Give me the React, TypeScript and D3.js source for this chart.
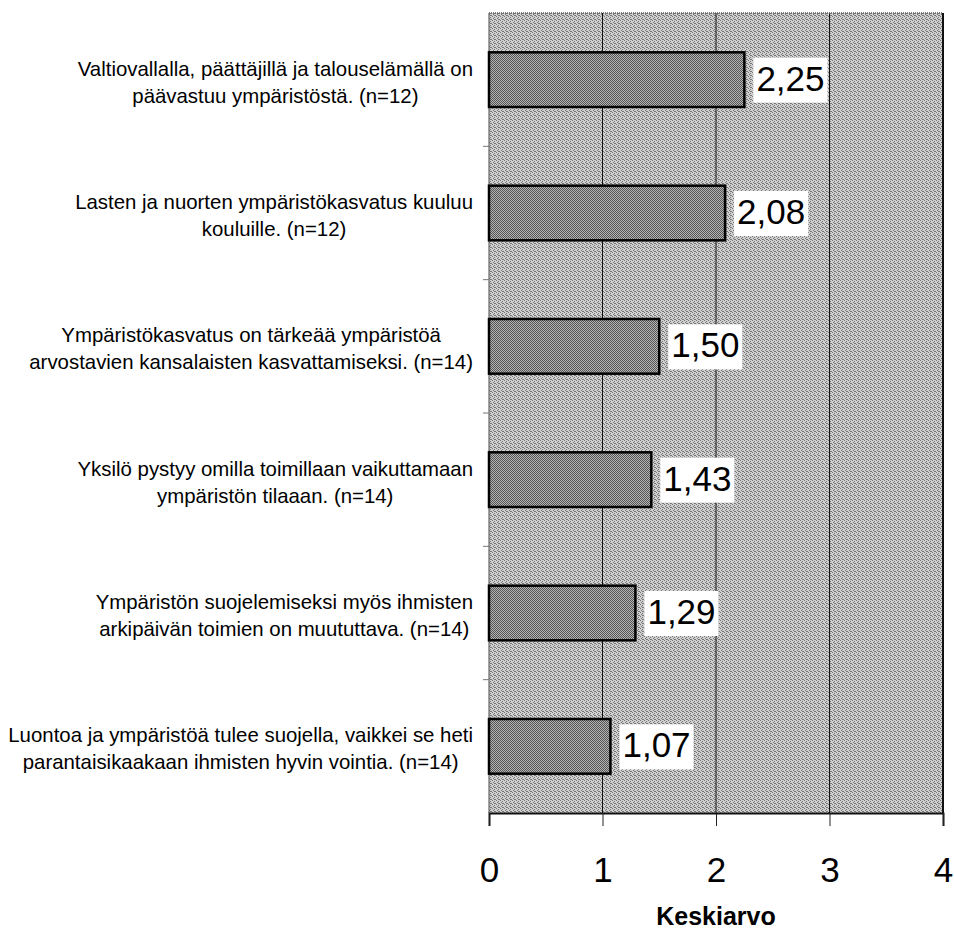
import { useEffect, useRef } from 'react';
import * as d3 from 'd3';

const statements: string[][] = [
  ['Valtiovallalla, päättäjillä ja talouselämällä on', 'päävastuu ympäristöstä. (n=12)'],
  ['Lasten ja nuorten ympäristökasvatus kuuluu', 'kouluille. (n=12)'],
  ['Ympäristökasvatus on tärkeää ympäristöä', 'arvostavien kansalaisten kasvattamiseksi. (n=14)'],
  ['Yksilö pystyy omilla toimillaan vaikuttamaan', 'ympäristön tilaaan. (n=14)'],
  ['Ympäristön suojelemiseksi myös ihmisten', 'arkipäivän toimien on muututtava. (n=14)'],
  ['Luontoa ja ympäristöä tulee suojella, vaikkei se heti', 'parantaisikaakaan ihmisten hyvin vointia. (n=14)'],
];
const means = [2.25, 2.08, 1.5, 1.43, 1.29, 1.07];
const xTicks = [0, 1, 2, 3, 4];
const axisTitle = 'Keskiarvo';

const fi = d3.formatLocale({ decimal: ',', thousands: ' ', grouping: [3], currency: ['', ' €'] });
const fmt = fi.format('.2f');

const FONT = '"Liberation Sans", Arial, Helvetica, sans-serif';

const App = () => {
  const svgRef = useRef<SVGSVGElement>(null);

  const width = 954;
  const height = 933;
  const plot = { left: 489, right: 943, top: 13, bottom: 813 };

  useEffect(() => {
    if (!svgRef.current) return;
    const svg = d3.select(svgRef.current);
    svg.selectAll('*').remove();

    svg.attr('width', width).attr('height', height);

    // dither-ish patterns
    const defs = svg.append('defs');
    const bgPat = defs.append('pattern')
      .attr('id', 'bgPat').attr('width', 4).attr('height', 4)
      .attr('patternUnits', 'userSpaceOnUse');
    bgPat.append('rect').attr('width', 4).attr('height', 4).attr('fill', '#cfcfcf');
    [[0, 0], [2, 1], [1, 2], [3, 3], [2, 3]].forEach(([px, py]) => {
      bgPat.append('rect').attr('x', px).attr('y', py).attr('width', 1).attr('height', 1).attr('fill', '#777');
    });

    const barPat = defs.append('pattern')
      .attr('id', 'barPat').attr('width', 2).attr('height', 2)
      .attr('patternUnits', 'userSpaceOnUse');
    barPat.append('rect').attr('width', 2).attr('height', 2).attr('fill', '#b4b4b4');
    barPat.append('rect').attr('x', 0).attr('y', 0).attr('width', 1).attr('height', 1).attr('fill', '#555');
    barPat.append('rect').attr('x', 1).attr('y', 1).attr('width', 1).attr('height', 1).attr('fill', '#555');

    svg.append('rect').attr('width', width).attr('height', height).attr('fill', 'white');

    const x = d3.scaleLinear().domain([0, 4]).range([plot.left, plot.right]);
    const y = d3.scaleBand<number>()
      .domain(means.map((_, i) => i))
      .range([plot.top, plot.bottom])
      .paddingInner(0.59)
      .paddingOuter(0.295);
    const step = y.step();

    // plot background
    svg.append('rect')
      .attr('x', plot.left).attr('y', plot.top)
      .attr('width', plot.right - plot.left).attr('height', plot.bottom - plot.top)
      .attr('fill', 'url(#bgPat)');

    // gridlines
    svg.append('g')
      .selectAll('line')
      .data(xTicks.slice(1, -1))
      .enter().append('line')
      .attr('x1', d => x(d)).attr('x2', d => x(d))
      .attr('y1', plot.top).attr('y2', plot.bottom)
      .attr('stroke', '#111').attr('stroke-width', 1);

    // borders
    svg.append('line')
      .attr('x1', plot.left).attr('x2', plot.right)
      .attr('y1', plot.top).attr('y2', plot.top)
      .attr('stroke', '#555').attr('stroke-width', 1.5).attr('stroke-dasharray', '1,1');
    svg.append('line')
      .attr('x1', plot.right).attr('x2', plot.right)
      .attr('y1', plot.top).attr('y2', plot.bottom)
      .attr('stroke', '#111').attr('stroke-width', 2);
    svg.append('line')
      .attr('x1', plot.left).attr('x2', plot.left)
      .attr('y1', plot.top).attr('y2', plot.bottom)
      .attr('stroke', '#666').attr('stroke-width', 1.2);

    // bars
    svg.append('g')
      .selectAll('rect')
      .data(means)
      .enter().append('rect')
      .attr('x', x(0))
      .attr('y', (_, i) => y(i) || 0)
      .attr('width', d => x(d) - x(0))
      .attr('height', y.bandwidth())
      .attr('fill', 'url(#barPat)')
      .attr('stroke', '#000')
      .attr('stroke-width', 2.5);

    // value labels with white boxes
    const labels = svg.append('g')
      .selectAll('g')
      .data(means)
      .enter().append('g')
      .attr('transform', (d, i) => `translate(${x(d)}, ${(y(i) || 0) + y.bandwidth() / 2})`);
    const labelTexts = labels.append('text')
      .attr('x', 12)
      .attr('y', 11)
      .attr('font-family', FONT)
      .attr('font-size', 35)
      .attr('fill', '#000')
      .text(d => fmt(d));
    labelTexts.each(function () {
      const t = this as SVGTextElement;
      const w = t.getComputedTextLength();
      d3.select(t.parentNode as SVGGElement)
        .insert('rect', 'text')
        .attr('x', 9).attr('y', -22)
        .attr('width', w + 6).attr('height', 45)
        .attr('fill', 'white');
    });

    // x axis
    const xAxis = svg.append('g')
      .attr('transform', `translate(0, ${plot.bottom})`)
      .call(d3.axisBottom(x).tickValues(xTicks).tickSize(13).tickPadding(0).tickFormat(d => String(d)));
    xAxis.select('.domain').attr('stroke', '#111').attr('stroke-width', 2);
    xAxis.selectAll('.tick line').attr('stroke', '#222');
    xAxis.selectAll('.tick text')
      .attr('font-family', FONT)
      .attr('font-size', 35)
      .attr('fill', '#000')
      .attr('dy', null)
      .attr('y', 69);

    svg.append('text')
      .attr('x', (plot.left + plot.right) / 2)
      .attr('y', 925)
      .attr('text-anchor', 'middle')
      .attr('font-family', FONT)
      .attr('font-weight', 'bold')
      .attr('font-size', 25)
      .attr('fill', '#000')
      .text(axisTitle);

    // y axis ticks at band boundaries
    svg.append('g')
      .selectAll('line')
      .data(means.slice(1).map((_, i) => i + 1))
      .enter().append('line')
      .attr('x1', plot.left - 6).attr('x2', plot.left)
      .attr('y1', i => plot.top + step * i).attr('y2', i => plot.top + step * i)
      .attr('stroke', '#777').attr('stroke-width', 1);

    // category labels, centred lines in a block right-aligned to the axis
    const blockRight = 473;
    const cat = svg.append('g')
      .selectAll('text')
      .data(statements)
      .enter().append('text')
      .attr('font-family', FONT)
      .attr('font-size', 20.4)
      .attr('fill', '#000')
      .attr('text-anchor', 'middle');
    cat.each(function (lines, i) {
      const t = d3.select(this);
      const cy = (y(i) || 0) + y.bandwidth() / 2;
      const spans = lines.map((line, j) =>
        t.append('tspan').attr('y', cy - 4 + j * 27).text(line));
      const widths = spans.map(s => (s.node() as SVGTSpanElement).getComputedTextLength());
      const cx = blockRight - Math.max(...widths) / 2;
      spans.forEach(s => s.attr('x', cx));
    });
  }, []);

  return (
    <div style={{ position: 'absolute', left: 0, top: 0 }}>
      <svg ref={svgRef} style={{ display: 'block' }}></svg>
    </div>
  );
};

export default App;
